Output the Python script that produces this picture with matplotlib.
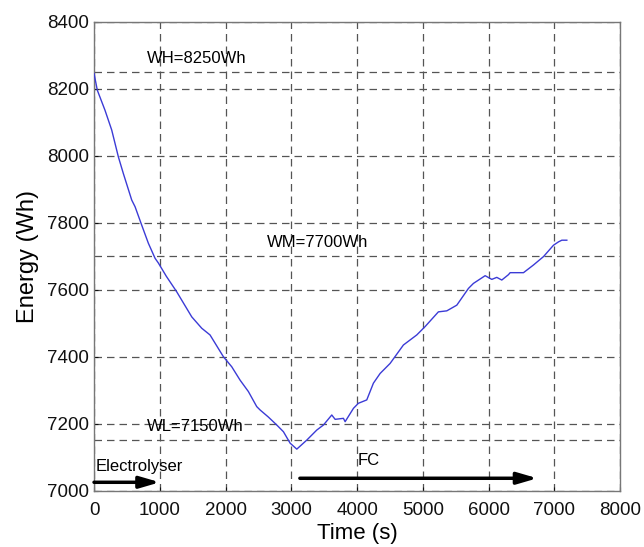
import numpy as np
import matplotlib.pyplot as plt

plt.rcParams['font.family'] = ['Liberation Sans', 'DejaVu Sans']

# stored energy over the test run
time_s = [0, 50, 167, 269, 370, 446, 573, 624, 725, 826, 928, 978, 1100, 1257,
          1486, 1638, 1764, 1967, 2094, 2221, 2347, 2474, 2525, 2650, 2779, 2880,
          2981, 3083, 3235, 3387, 3488, 3615, 3666, 3792, 3818, 3945, 4020, 4147,
          4248, 4350, 4502, 4704, 4907, 5034, 5236, 5364, 5516, 5693, 5769, 5947,
          6048, 6124, 6200, 6301, 6327, 6530, 6682, 6834, 6986, 7062, 7113, 7189]
energy_wh = [8246, 8196, 8136, 8077, 7997, 7947, 7868, 7848, 7793, 7739, 7694, 7680,
             7640, 7594, 7519, 7485, 7465, 7400, 7370, 7330, 7296, 7251, 7241, 7220,
             7196, 7176, 7142, 7124, 7151, 7181, 7196, 7226, 7213, 7216, 7206, 7246,
             7261, 7271, 7321, 7350, 7380, 7435, 7465, 7490, 7534, 7537, 7554, 7604,
             7619, 7642, 7631, 7637, 7629, 7645, 7651, 7651, 7674, 7699, 7733, 7743,
             7748, 7748]

# energy limits
levels = [8250, 7700, 7150]
level_labels = ['WH=8250Wh', 'WM=7700Wh', 'WL=7150Wh']
level_label_x = [810, 2630, 800]

fig = plt.figure(figsize=(6.44, 5.47), dpi=100)
ax = fig.add_axes([0.146, 0.103, 0.817, 0.857])

ax.plot(time_s, energy_wh, color='#3b3bd6', lw=1.0, zorder=3)

ax.set_xlim(0, 8000)
ax.set_ylim(7000, 8400)
ax.set_xticks(np.arange(0, 8001, 1000))
ax.set_yticks(np.arange(7000, 8401, 200))
ax.grid(True, color='#555555', ls=(0, (6, 4)), lw=0.9)

for lev, lab, lx in zip(levels, level_labels, level_label_x):
    ax.axhline(lev, color='#555555', ls=(0, (6, 4)), lw=0.9)
    ax.text(lx, lev + 18, lab, fontsize=12, va='bottom', ha='left')

# operating modes
ax.annotate('', xy=(1000, 7025), xytext=(0, 7025),
            arrowprops=dict(arrowstyle='-|>,head_length=1.2,head_width=0.35',
                            color='black', lw=2.5, shrinkA=0, shrinkB=0))
ax.text(20, 7050, 'Electrolyser', fontsize=12, va='bottom', ha='left')
ax.annotate('', xy=(6740, 7037), xytext=(3130, 7037),
            arrowprops=dict(arrowstyle='-|>,head_length=1.2,head_width=0.35',
                            color='black', lw=2.5, shrinkA=0, shrinkB=0))
ax.text(4010, 7068, 'FC', fontsize=12, va='bottom', ha='left')

ax.tick_params(direction='in', length=3, labelsize=13.5, colors='#111111')
ax.tick_params(axis='x', pad=8)
for sp in ax.spines.values():
    sp.set_color('#777777')
    sp.set_linewidth(1.0)

ax.set_xlabel('Time (s)', fontsize=16, labelpad=3)
ax.set_ylabel('Energy (Wh)', fontsize=17, labelpad=6)

fig.savefig('out.png', dpi=100)
